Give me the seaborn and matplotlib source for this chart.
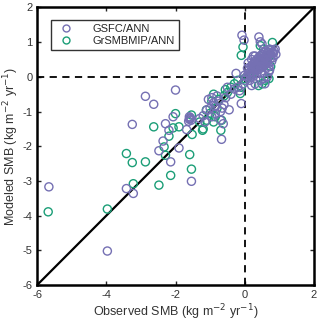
import numpy as np
import pandas as pd
import matplotlib
matplotlib.use("Agg")
import matplotlib.pyplot as plt
import seaborn as sns
from matplotlib.lines import Line2D

series_names = ["GSFC/ANN", "GrSMBMIP/ANN"]

gsfc_x = [-5.66, -3.97, -3.42, -3.22, -3.25, -2.87, -2.63, -2.0, -2.29, -2.36, -2.48, -2.14, -2.07, -2.19, -1.9, -1.54, -1.68,
          -1.60, -1.58, -1.55, -1.6, -1.57, -1.62,
          -1.2, -1.15, -1.05, -0.95, -0.9, -0.85, -1.0, -0.8, -0.75, -0.7, -0.65, -0.6, -0.55, -0.67, -0.7, -0.62, -0.45,
          -0.4, -0.3, -0.25, -0.2, -0.1, -0.08, -0.02, -1.3, -1.1, -0.95, -0.85, -0.5,
          0.0, 0.05, 0.1, 0.12, 0.15, 0.18, 0.2, 0.22, 0.25, 0.28, 0.3, 0.3, 0.33, 0.35, 0.38, 0.4, 0.4, 0.42, 0.45, 0.48,
          0.5, 0.5, 0.52, 0.55, 0.58, 0.6, 0.6, 0.62, 0.65, 0.68, 0.7, 0.72, 0.75, 0.78, 0.8, 0.85, 0.9, 0.88, 0.2, 0.3,
          0.45, 0.55, 0.58, 0.65, 0.7, 0.72, 0.15, 0.08, 0.25, 0.41, 0.45, 0.5, 0.35, 0.5, 0.62, 0.82, 0.1, 0.2, 0.3,
          -0.05, 0.0, -0.15,
          0.14, 0.24, 0.27, 0.32, 0.36, 0.43, 0.47, 0.53, 0.57, 0.63, 0.67, 0.73, 0.77, 0.83, 0.26, 0.37, 0.44, 0.54,
          0.64, 0.74, 0.34, 0.46, 0.56, 0.66, 0.17, 0.23]
gsfc_y = [-3.17, -5.02, -3.22, -3.36, -1.37, -0.56, -0.79, -0.38, -1.35, -1.85, -2.13, -2.45, -1.15, -1.54, -2.05, -3.01, -1.52,
          -1.15, -1.2, -1.25, -1.22, -1.18, -1.28,
          -1.12, -1.3, -0.65, -0.6, -0.75, -0.85, -0.9, -0.55, -0.7, -1.0, -0.9, -0.8, -0.6, -1.8, -1.25, -1.35, -0.95,
          -0.5, -0.35, 0.1, -0.3, -0.77, 1.2, 1.06, -1.2, -0.95, -1.15, -1.05, -0.3,
          -0.1, 0.0, 0.1, 0.2, 0.05, 0.3, 0.15, 0.35, 0.25, 0.4, 0.2, 0.45, 0.3, 0.5, 0.35, 0.55, 0.2, 0.4, 0.6, 0.45,
          0.3, 0.65, 0.5, 0.7, 0.55, 0.4, 0.75, 0.6, 0.5, 0.7, 0.3, 0.8, 0.6, 0.45, 0.7, 0.75, 0.65, 0.8, -0.25, -0.2,
          -0.1, -0.05, -0.2, 0.0, 0.15, 0.2, -0.1, 0.25, 0.6, 1.15, 1.01, 0.95, 0.1, 0.1, 0.25, 0.55, 0.4, 0.5, 0.6,
          -0.2, 0.05, -0.4,
          0.12, 0.22, 0.32, 0.28, 0.42, 0.38, 0.52, 0.48, 0.62, 0.58, 0.72, 0.66, 0.78, 0.68, 0.1, 0.24, 0.3, 0.4,
          0.46, 0.52, 0.18, 0.28, 0.36, 0.42, 0.0, 0.05]

grs_x = [-5.68, -3.97, -3.42, -3.25, -3.22, -2.87, -2.48, -2.63, -2.33, -2.29, -2.14, -2.19, -2.07, -2.0, -1.9, -1.59, -1.54,
         -1.52, -1.54, -1.22, -1.11, -1.2, -0.69, -0.67, -0.56, -0.1, -0.05, 0.8, -0.13, -0.9, -0.85, -0.8, -1.0, -0.95,
         -0.75, -0.6, -0.5, -0.4, -0.3, -0.2, -0.1, 0.0, 0.1, 0.2, 0.3, 0.4, 0.5, 0.6, 0.7, 0.6, 0.5, 0.4, 0.7, 0.75,
         0.55, 0.45, -1.3, -1.1, -0.9]
grs_y = [-3.89, -3.81, -2.21, -2.47, -3.08, -2.45, -3.12, -1.44, -2.02, -2.26, -2.84, -1.71, -1.47, -1.06, -1.44, -2.24, -2.66,
         -1.66, -1.1, -1.54, -0.96, -1.5, -1.54, -1.25, -0.37, 0.62, 0.86, 0.99, -0.48, -0.5, -1.15, -0.9, -1.05, -0.7,
         -0.65, -0.55, -0.45, -0.3, -0.2, -0.1, -0.3, -0.05, 0.0, 0.1, 0.2, 0.3, 0.4, 0.5, 0.6, -0.1, -0.2, -0.25, -0.05, 0.3,
         0.8, 0.9, -1.3, -1.25, -1.3]

x_ticks = [-6, -4, -2, 0, 2]
y_ticks = [-6, -5, -4, -3, -2, -1, 0, 1, 2]

df = pd.concat([
    pd.DataFrame({"obs": grs_x, "mod": grs_y, "src": series_names[1]}),
    pd.DataFrame({"obs": gsfc_x, "mod": gsfc_y, "src": series_names[0]}),
], ignore_index=True)

sns.set_style("ticks")
plt.rcParams["font.family"] = ["Liberation Sans", "DejaVu Sans"]
plt.rcParams["axes.unicode_minus"] = False

fig = plt.figure(figsize=(3.2, 3.25), dpi=100)
ax = fig.add_axes([0.116, 0.123, 0.865, 0.854])

palette = {series_names[0]: "#7570b3", series_names[1]: "#1b9e77"}
ax.axhline(0, color="black", ls=(0, (4, 3)), lw=1.3, zorder=1)
ax.axvline(0, color="black", ls=(0, (4, 3)), lw=1.3, zorder=1)
ax.plot([-6, 2], [-6, 2], color="black", lw=1.6, zorder=1)

sns.scatterplot(data=df, x="obs", y="mod", hue="src", hue_order=series_names, palette=palette,
                marker="o", s=34, linewidth=1.0, ax=ax, zorder=3, legend=False)
coll = ax.collections[-1]
fc = coll.get_facecolors()
coll.set_edgecolors(fc)
coll.set_facecolors("none")

handles = [Line2D([], [], ls="none", marker="o", markersize=5, markerfacecolor="none",
                  markeredgecolor=palette[n], markeredgewidth=1.0) for n in series_names]
leg = ax.legend(handles, series_names, loc="upper left", bbox_to_anchor=(0.03, 0.975), fontsize=8,
                frameon=True, fancybox=False, edgecolor="black", handletextpad=1.4, borderpad=0.35,
                labelspacing=0.2, handlelength=2.0)
leg.get_frame().set_linewidth(1.0)

ax.set_xlim(-6, 2)
ax.set_ylim(-6, 2)
ax.set_xticks(x_ticks)
ax.set_yticks(y_ticks)
ax.tick_params(direction="in", length=3, width=1, top=True, right=True, labelsize=8, pad=3.5,
               labelcolor="#333333")
for s in ax.spines.values():
    s.set_linewidth(1.8)
    s.set_color("black")
ax.set_xlabel("Observed SMB (kg m$^{-2}$ yr$^{-1}$)", fontsize=9, color="#333333", labelpad=2)
ax.set_ylabel("Modeled SMB (kg m$^{-2}$ yr$^{-1}$)", fontsize=9, color="#333333", labelpad=1)

fig.savefig("out.png", dpi=100)
